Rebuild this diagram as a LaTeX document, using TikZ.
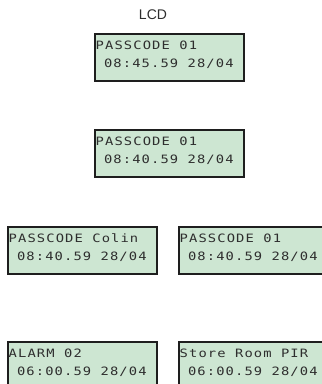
\documentclass[tikz,border=0pt]{standalone}
\usepackage{fontspec}
\newfontfamily\lcdfont[LetterSpace=8]{DejaVu Sans Mono}
\newfontfamily\labelfont{Liberation Sans}
\definecolor{lcdfill}{HTML}{CDE6D2}
\definecolor{lcdedge}{HTML}{1E1E1E}
\definecolor{lcdtext}{HTML}{2E2E2E}
\tikzset{
  lcdbox/.style={draw=lcdedge, line width=2.4pt, fill=lcdfill, minimum width=149pt, minimum height=47pt, anchor=north west, inner sep=0pt},
  lcdline/.style={anchor=base west, inner sep=0pt, text=lcdtext, font=\lcdfont\fontsize{11.5}{11.5}\selectfont, xscale=1.2, transform shape},
  lcdlabel/.style={text=lcdtext, font=\labelfont\fontsize{14}{14}\selectfont, inner sep=0pt}
}
\newcommand{\lsp}{\hphantom{0}}
\begin{document}
\begin{tikzpicture}[x=1pt,y=-1pt]
\useasboundingbox (0,0) rectangle (322,384);
\clip (0,0) rectangle (322,384);
\node[lcdlabel] (lab) at (153,14.5) {LCD};
% row 1
\node[lcdbox] (b1) at (94,33) {};
\node[lcdline] (b1a) at ([xshift=1.5pt,yshift=-16pt]b1.north west) {PASSCODE 01};
\node[lcdline] (b1b) at ([xshift=1.5pt,yshift=-34pt]b1.north west) {\lsp08:45.59 28/04};
% row 2
\node[lcdbox] (b2) at (94,129) {};
\node[lcdline] (b2a) at ([xshift=1.5pt,yshift=-16pt]b2.north west) {PASSCODE 01};
\node[lcdline] (b2b) at ([xshift=1.5pt,yshift=-34pt]b2.north west) {\lsp08:40.59 28/04};
% row 3
\node[lcdbox] (b3) at (7,226) {};
\node[lcdline] (b3a) at ([xshift=1.5pt,yshift=-16pt]b3.north west) {PASSCODE Colin};
\node[lcdline] (b3b) at ([xshift=1.5pt,yshift=-34pt]b3.north west) {\lsp08:40.59 28/04};
\node[lcdbox] (b4) at (178,226) {};
\node[lcdline] (b4a) at ([xshift=1.5pt,yshift=-16pt]b4.north west) {PASSCODE 01};
\node[lcdline] (b4b) at ([xshift=1.5pt,yshift=-34pt]b4.north west) {\lsp08:40.59 28/04};
% row 4
\node[lcdbox] (b5) at (7,341) {};
\node[lcdline] (b5a) at ([xshift=1.5pt,yshift=-16pt]b5.north west) {ALARM 02};
\node[lcdline] (b5b) at ([xshift=1.5pt,yshift=-34pt]b5.north west) {\lsp06:00.59 28/04};
\node[lcdbox] (b6) at (178,341) {};
\node[lcdline] (b6a) at ([xshift=1.5pt,yshift=-16pt]b6.north west) {Store Room PIR};
\node[lcdline] (b6b) at ([xshift=1.5pt,yshift=-34pt]b6.north west) {\lsp06:00.59 28/04};
\end{tikzpicture}
\end{document}
